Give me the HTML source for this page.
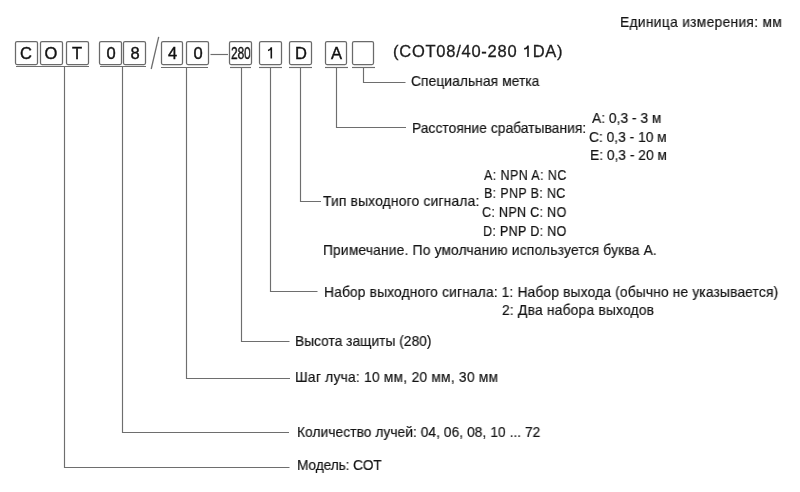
<!DOCTYPE html>
<html><head><meta charset="utf-8"><style>
html,body{margin:0;padding:0;background:#fff;width:800px;height:492px;overflow:hidden;position:relative}
.t{position:absolute;font-family:"Liberation Sans",sans-serif;white-space:nowrap;line-height:1;color:#141414;will-change:transform;-webkit-text-stroke:0.2px #141414}
svg{position:absolute;left:0;top:0}
svg line,svg polyline{stroke:#6e6e6e;stroke-width:1.15;fill:none}
.bx{fill:none;stroke:#6a6a6a;stroke-width:1.25}
.h1{color:transparent;-webkit-text-stroke:0}
.g1{stroke:#151515;stroke-width:1.6;fill:none;stroke-linecap:butt}
.bl{position:absolute;font-family:"Liberation Sans",sans-serif;line-height:1;text-align:center;color:#111;will-change:transform;-webkit-text-stroke:0.4px #111}
</style></head><body>
<svg width="800" height="492" viewBox="0 0 800 492"><line x1="16" y1="66.5" x2="89" y2="66.5"/><line x1="100" y1="66.5" x2="146" y2="66.5"/><line x1="161" y1="67.5" x2="208" y2="67.5"/><line x1="230" y1="67.5" x2="251" y2="67.5"/><line x1="259" y1="67.5" x2="282" y2="67.5"/><line x1="289" y1="67.5" x2="312" y2="67.5"/><line x1="325" y1="67.5" x2="348" y2="67.5"/><line x1="352" y1="67.5" x2="375" y2="67.5"/><polyline points="64.5,66.5 64.5,467.5 289.5,467.5"/><polyline points="122.5,66.5 122.5,432.5 289,432.5"/><polyline points="186.5,67.5 186.5,378.5 290,378.5"/><polyline points="241.5,67.5 241.5,341.5 289.5,341.5"/><polyline points="270.5,67.5 270.5,291.5 317.5,291.5"/><polyline points="300.5,67.5 300.5,201.5 321,201.5"/><polyline points="336.5,67.5 336.5,127.5 406,127.5"/><polyline points="363.5,67.5 363.5,82.5 405.5,82.5"/><line x1="210.5" y1="54.5" x2="228" y2="54.5"/><path class="g1" d="M271.3,47.2V58.4M271.3,47.8C270.6,49.4 269.6,50.3 268,50.5"/><path class="g1" d="M528,45.4V57M528,46C527.3,47.6 526.2,48.6 524.2,48.9"/><line x1="158.7" y1="36.8" x2="151.2" y2="69" style="stroke-width:1.3"/><rect x="15.5" y="41.5" width="22" height="23" rx="1.5" class="bx"/><rect x="40.5" y="41.5" width="22" height="23" rx="1.5" class="bx"/><rect x="66.5" y="41.5" width="22" height="23" rx="1.5" class="bx"/><rect x="99.5" y="41.5" width="22" height="23" rx="1.5" class="bx"/><rect x="123.5" y="41.5" width="22" height="23" rx="1.5" class="bx"/><rect x="161.5" y="41.5" width="21" height="23" rx="1.5" class="bx"/><rect x="186.5" y="41.5" width="22" height="23" rx="1.5" class="bx"/><rect x="229.5" y="41.5" width="22" height="23" rx="1.5" class="bx"/><rect x="259.5" y="41.5" width="22" height="23" rx="1.5" class="bx"/><rect x="289.5" y="41.5" width="22" height="23" rx="1.5" class="bx"/><rect x="325.5" y="41.5" width="21" height="23" rx="1.5" class="bx"/><rect x="352.5" y="41.5" width="21" height="23" rx="1.5" class="bx"/></svg>
<div class="bl" style="left:15px;width:22px;top:45.21px;font-size:16.5px;">C</div>
<div class="bl" style="left:40px;width:22px;top:45.21px;font-size:16.5px;">O</div>
<div class="bl" style="left:66px;width:22px;top:45.21px;font-size:16.5px;">T</div>
<div class="bl" style="left:100px;width:22px;top:45.21px;font-size:16.5px;">0</div>
<div class="bl" style="left:124px;width:22px;top:45.21px;font-size:16.5px;">8</div>
<div class="bl" style="left:162px;width:21px;top:45.21px;font-size:16.5px;">4</div>
<div class="bl" style="left:187px;width:22px;top:45.21px;font-size:16.5px;">0</div>
<div class="bl" style="left:230.5px;top:45.21px;font-size:16.5px;transform:scaleX(0.715);transform-origin:0 0">280</div>
<div class="bl" style="left:290px;width:22px;top:45.21px;font-size:16.5px;">D</div>
<div class="bl" style="left:326px;width:21px;top:45.21px;font-size:16.5px;">A</div>
<div class="t" style="left:392.5px;top:43.21px;font-size:16.5px;letter-spacing:0.75px;color:#1c1c1c;-webkit-text-stroke:0.3px #1c1c1c">(COT08/40-280 <span class="h1">1</span>DA)</div>
<div class="t" style="left:620.00px;top:15.16px;font-size:14.5px;transform:scaleX(0.95);transform-origin:0 0;letter-spacing:0.335px">Единица измерения: мм</div>
<div class="t" style="left:411.00px;top:74.36px;font-size:14.5px;transform:scaleX(0.95);transform-origin:0 0;letter-spacing:0.090px">Специальная метка</div>
<div class="t" style="left:411.50px;top:121.16px;font-size:14.5px;transform:scaleX(0.95);transform-origin:0 0;letter-spacing:0.056px">Расстояние срабатывания:</div>
<div class="t" style="left:592.10px;top:111.06px;font-size:14.5px;transform:scaleX(0.95);transform-origin:0 0;letter-spacing:0.014px">A: 0,3 - 3 м</div>
<div class="t" style="left:589.00px;top:129.76px;font-size:14.5px;transform:scaleX(0.95);transform-origin:0 0;letter-spacing:0.007px">C: 0,3 - 10 м</div>
<div class="t" style="left:590.00px;top:148.16px;font-size:14.5px;transform:scaleX(0.95);transform-origin:0 0;letter-spacing:0.007px">E: 0,3 - 20 м</div>
<div class="t" style="left:322.75px;top:194.16px;font-size:14.5px;transform:scaleX(0.95);transform-origin:0 0;letter-spacing:0.214px">Тип выходного сигнала:</div>
<div class="t" style="left:484.10px;top:168.06px;font-size:14.5px;transform:scaleX(0.86);transform-origin:0 0;letter-spacing:0.505px">A: NPN A: NC</div>
<div class="t" style="left:483.70px;top:186.36px;font-size:14.5px;transform:scaleX(0.86);transform-origin:0 0;letter-spacing:0.410px">B: PNP B: NC</div>
<div class="t" style="left:482.00px;top:205.16px;font-size:14.5px;transform:scaleX(0.86);transform-origin:0 0;letter-spacing:0.410px">C: NPN C: NO</div>
<div class="t" style="left:483.30px;top:223.86px;font-size:14.5px;transform:scaleX(0.86);transform-origin:0 0;letter-spacing:0.410px">D: PNP D: NO</div>
<div class="t" style="left:322.50px;top:243.16px;font-size:14.5px;transform:scaleX(0.95);transform-origin:0 0;letter-spacing:0.192px">Примечание. По умолчанию используется буква А.</div>
<div class="t" style="left:324.20px;top:284.76px;font-size:14.5px;transform:scaleX(0.95);transform-origin:0 0;letter-spacing:0.170px">Набор выходного сигнала: 1: Набор выхода (обычно не указывается)</div>
<div class="t" style="left:502.10px;top:302.56px;font-size:14.5px;transform:scaleX(0.95);transform-origin:0 0;letter-spacing:0.235px">2: Два набора выходов</div>
<div class="t" style="left:294.70px;top:334.06px;font-size:14.5px;transform:scaleX(0.95);transform-origin:0 0;letter-spacing:0.005px">Высота защиты (280)</div>
<div class="t" style="left:295.10px;top:369.76px;font-size:14.5px;transform:scaleX(0.95);transform-origin:0 0;letter-spacing:0.261px">Шаг луча: 10 мм, 20 мм, 30 мм</div>
<div class="t" style="left:296.70px;top:424.76px;font-size:14.5px;transform:scaleX(0.95);transform-origin:0 0;letter-spacing:0.048px">Количество лучей: 04, 06, 08, 10 ... 72</div>
<div class="t" style="left:296.50px;top:458.16px;font-size:14.5px;transform:scaleX(0.95);transform-origin:0 0;letter-spacing:-0.152px">Модель: COT</div>
</body></html>
